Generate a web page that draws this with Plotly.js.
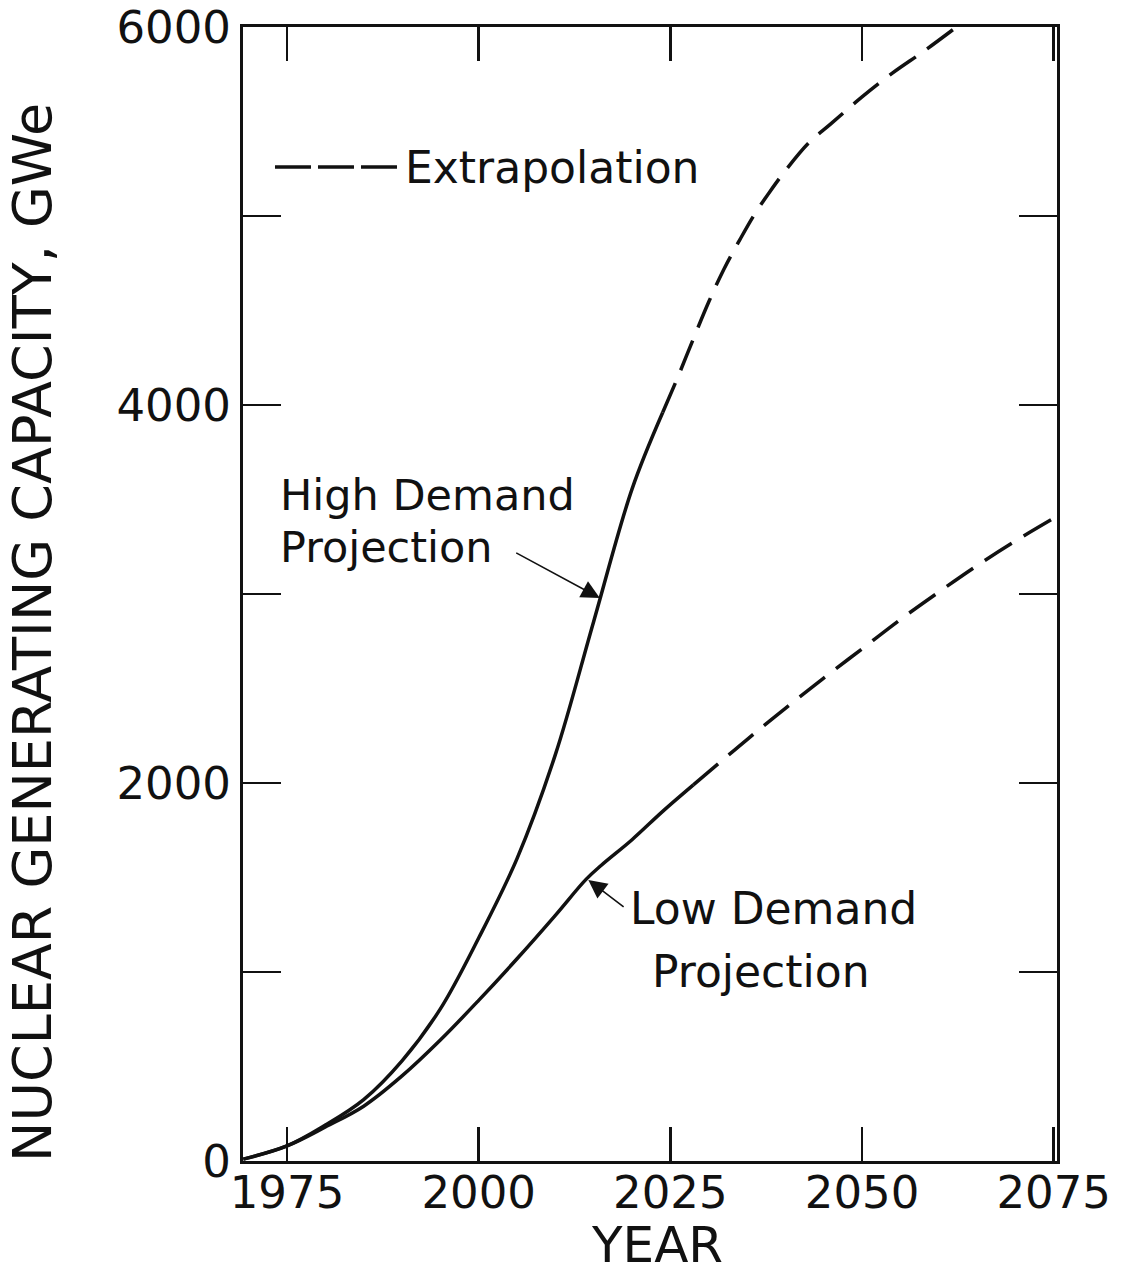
<!DOCTYPE html>
<html>
<head>
<meta charset="utf-8">
<script src="https://cdn.plot.ly/plotly-3.0.1.min.js"></script>
<style>
  html, body { margin: 0; padding: 0; background: #fff; }
  #chart { width: 1135px; height: 1278px; }
</style>
</head>
<body>
<div id="chart"></div>
<script>
// Nuclear generating capacity projections, GWe
const highYears = [1969.3, 1975, 1980, 1985, 1990, 1995, 2000, 2005, 2010, 2015, 2020, 2024];
const highValues = [10, 80, 190, 325, 530, 805, 1180, 1600, 2150, 2855, 3555, 3960];
const highExtYears = [2024, 2026, 2028, 2030, 2032, 2034, 2036, 2038, 2040, 2043, 2046, 2050, 2054, 2058, 2062];
const highExtValues = [3960, 4150, 4350, 4545, 4720, 4870, 5010, 5130, 5240, 5385, 5490, 5630, 5757, 5870, 5990];

const lowYears = [1969.3, 1975, 1980, 1985, 1990, 1995, 2000, 2005, 2010, 2014, 2016, 2020, 2024, 2028];
const lowValues = [10, 80, 180, 290, 450, 640, 850, 1070, 1300, 1490, 1565, 1700, 1850, 1990];
const lowExtYears = [2028, 2035, 2040, 2045, 2050, 2055, 2060, 2065, 2070, 2075.4];
const lowExtValues = [1990, 2230, 2395, 2555, 2710, 2865, 3010, 3150, 3280, 3410];

const xTicks = [1975, 2000, 2025, 2050, 2075];
const xTickText = ['1975', '2000', '2025', '2050', '2075'];
const yTicks = [0, 1000, 2000, 3000, 4000, 5000, 6000];
const yTickText = ['0', '', '2000', '', '4000', '', '6000'];

const INK = '#111';
const FONT = 'DejaVu Sans, Liberation Sans, sans-serif';

const solid = { color: INK, width: 3.5, shape: 'spline', smoothing: 1 };
const dashed = { color: INK, width: 3.5, shape: 'spline', smoothing: 1, dash: '32px,14px' };

const traces = [
  { x: highYears, y: highValues, mode: 'lines', line: solid, hoverinfo: 'skip' },
  { x: highExtYears, y: highExtValues, mode: 'lines', line: dashed, hoverinfo: 'skip' },
  { x: lowYears, y: lowValues, mode: 'lines', line: solid, hoverinfo: 'skip' },
  { x: lowExtYears, y: lowExtValues, mode: 'lines', line: dashed, hoverinfo: 'skip' }
];

const axisCommon = {
  showgrid: false, zeroline: false,
  showline: true, linecolor: INK, linewidth: 3,
  mirror: 'ticks', ticks: 'inside', tickcolor: INK, tickwidth: 2.5,
  tickfont: { family: FONT, size: 45, color: INK },
  fixedrange: true
};

const layout = {
  width: 1135, height: 1278,
  margin: { l: 243, r: 78, t: 27, b: 117 },
  paper_bgcolor: '#fff', plot_bgcolor: '#fff',
  showlegend: false,
  xaxis: Object.assign({}, axisCommon, {
    range: [1969.26, 2075.43], tickmode: 'array', tickvals: xTicks, ticktext: xTickText,
    ticklen: 34, ticklabelstandoff: -10
  }),
  yaxis: Object.assign({}, axisCommon, {
    range: [0, 6000], tickmode: 'array', tickvals: yTicks, ticktext: yTickText,
    ticklen: 38
  }),
  shapes: [
    { type: 'line', xref: 'paper', yref: 'paper', x0: 0.0393, x1: 0.1929, y0: 0.8765, y1: 0.8765,
      line: { color: INK, width: 3.5, dash: '36px,7px' } }
  ],
  annotations: [
    { text: 'Extrapolation', xref: 'paper', yref: 'paper', x: 0.197, y: 0.8765,
      xanchor: 'left', yanchor: 'middle', showarrow: false,
      font: { family: FONT, size: 44, color: INK } },
    { text: 'High Demand', xref: 'paper', yref: 'paper', x: 0.0435, y: 0.5873,
      xanchor: 'left', yanchor: 'middle', showarrow: false,
      font: { family: FONT, size: 43, color: INK } },
    { text: 'Projection', xref: 'paper', yref: 'paper', x: 0.0435, y: 0.5414,
      xanchor: 'left', yanchor: 'middle', showarrow: false,
      font: { family: FONT, size: 43, color: INK } },
    { text: 'Low Demand', xref: 'paper', yref: 'paper', x: 0.4735, y: 0.2231,
      xanchor: 'left', yanchor: 'middle', showarrow: false,
      font: { family: FONT, size: 44, color: INK } },
    { text: 'Projection', xref: 'paper', yref: 'paper', x: 0.5005, y: 0.1667,
      xanchor: 'left', yanchor: 'middle', showarrow: false,
      font: { family: FONT, size: 44, color: INK } },
    // pointer arrows to each projection curve
    { text: '', x: 2015.8, y: 2979, xref: 'x', yref: 'y', ax: 2004.7, ay: 3222, axref: 'x', ayref: 'y',
      showarrow: true, arrowhead: 2, arrowsize: 2.3, arrowwidth: 1.6, arrowcolor: INK, standoff: 0 },
    { text: '', x: 2014.3, y: 1487, xref: 'x', yref: 'y', ax: 2019.1, ay: 1339, axref: 'x', ayref: 'y',
      showarrow: true, arrowhead: 2, arrowsize: 2.3, arrowwidth: 1.6, arrowcolor: INK, standoff: 0 },
    // axis titles
    { text: 'YEAR', xref: 'paper', yref: 'paper', x: 0.5086, y: -0.1014,
      xanchor: 'center', yanchor: 'bottom', showarrow: false,
      font: { family: FONT, size: 50, color: INK } },
    { text: 'NUCLEAR GENERATING CAPACITY, GWe', xref: 'paper', yref: 'paper', x: -0.258, y: 0.4665,
      xanchor: 'center', yanchor: 'middle', textangle: -90, showarrow: false,
      font: { family: FONT, size: 54, color: INK } }
  ]
};

Plotly.newPlot('chart', traces, layout, { staticPlot: true, displayModeBar: false });
</script>
</body>
</html>
